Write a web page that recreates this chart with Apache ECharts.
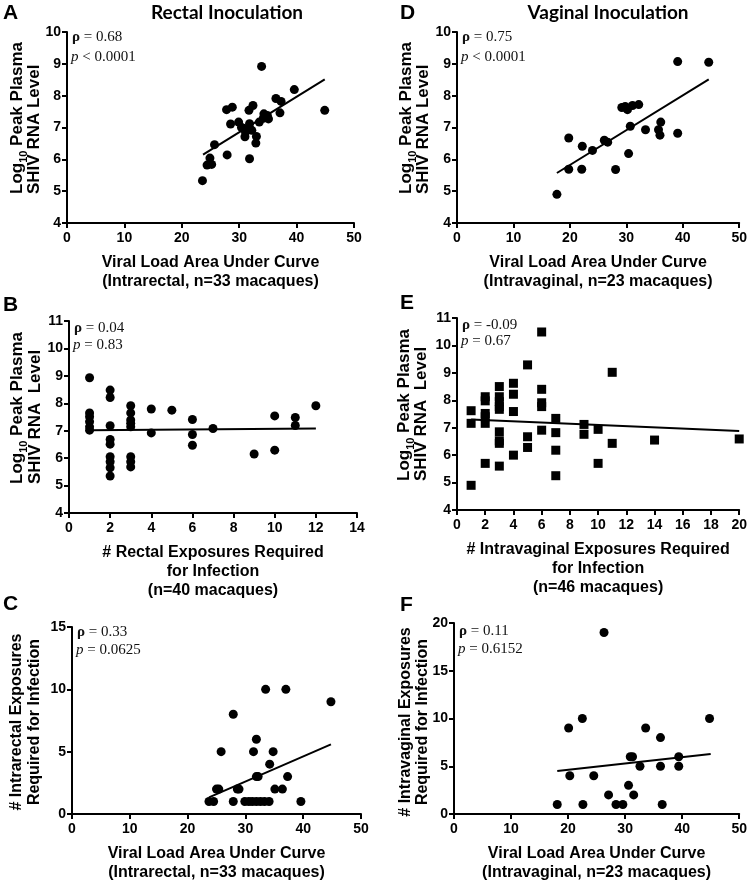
<!DOCTYPE html>
<html><head><meta charset="utf-8">
<script src="https://cdn.jsdelivr.net/npm/echarts@6.0.0/dist/echarts.min.js"></script>
<style>html,body{margin:0;padding:0;background:#fff}#c{width:750px;height:883px}</style>
</head><body><div id="c"></div>
<script>
// ---------- DATA ----------
// Panel A: rectal, AUC vs peak log10 RNA
const aAuc  = [23.6,24.4,24.9,25.2,25.7,27.9,27.8,28.8,28.5,29.9,30.4,30.7,31.0,31.1,31.4,31.7,31.8,31.8,32.4,32.2,33.0,32.9,33.5,33.9,34.3,34.2,34.9,35.1,36.4,37.1,37.3,39.6,44.9];
const aPeak = [5.33,5.82,6.04,5.84,6.46,6.14,7.56,7.64,7.11,7.17,7.00,6.98,6.71,6.86,6.92,7.54,7.12,6.02,7.69,6.91,6.72,6.51,7.17,8.92,7.43,7.29,7.38,7.27,7.91,7.46,7.82,8.19,7.54];
const aFit  = [[23.7,6.15],[44.9,8.51]];
// Panel D: vaginal, AUC vs peak
const dAuc  = [17.7,19.8,19.8,22.2,22.1,24.0,26.1,26.7,28.1,29.2,29.8,30.2,30.4,30.7,31.1,32.2,33.4,35.7,35.96,36.1,39.1,39.1,44.6];
const dPeak = [4.90,6.67,5.69,6.41,5.69,6.28,6.60,6.54,5.68,7.63,7.66,7.56,6.18,7.04,7.69,7.72,6.93,6.93,6.76,7.17,6.82,9.07,9.05];
const dFit  = [[17.7,5.57],[44.6,8.51]];
// Panel B: rectal exposures vs peak
const bExp  = [1,1,1,1,1,1, 2,2,2,2,2,2,2,2,2, 3,3,3,3,3,3,3,3, 4,4, 5, 6,6,6, 7, 9, 10,10, 11,11, 12];
const bPeak = [8.93,7.65,7.51,7.33,7.14,7.02, 8.48,8.21,7.18,6.68,6.51,6.05,5.87,5.65,5.35, 7.91,7.65,7.39,7.27,7.14,6.05,5.87,5.68, 7.79,6.92, 7.75, 7.41,6.86,6.47, 7.08, 6.15, 7.54,6.29, 7.48,7.19, 7.91];
const bFit  = [[1,7.02],[12,7.08]];
// Panel E: vaginal exposures vs peak
const eExp  = [1,1,1, 2,2,2,2,2,2, 3,3,3,3,3,3,3,3,3, 4,4,4,4, 5,5,5, 6,6,6,6,6, 7,7,7,7, 9,9, 10,10, 11,11, 14, 20];
const ePeak = [7.62,7.16,4.90, 8.13,7.98,7.52,7.40,7.16,5.70, 8.50,8.13,7.95,7.77,7.67,6.85,6.52,6.43,5.60, 8.62,8.22,7.59,6.00, 9.29,6.67,6.28, 10.49,8.40,7.91,7.77,6.91, 7.34,6.82,6.18,5.25, 7.12,6.76, 6.94,5.70, 9.02,6.43, 6.55, 6.59];
const eFit  = [[1,7.30],[20,6.88]];
// Panel C: rectal AUC vs exposures
const cAuc  = [23.7,24.5,25.0,25.4,25.8,27.9,27.9,28.6,28.9,29.9,30.6,31.2,31.4,31.9,31.9,31.9,32.6,33.3,34.1,33.5,34.2,34.8,35.1,36.4,37.0,37.3,39.6,44.8,32.2];
const cExp  = [1,1,2,2,5,1,8,2,2,1,1,1,5,3,6,1,1,1,1,10,4,5,2,2,10,3,1,9,3];
const cFit  = [[23.7,1.33],[44.8,5.58]];
// Panel F: vaginal AUC vs exposures
const fAuc  = [18.1,20.1,20.3,22.5,22.6,24.5,26.3,27.1,28.4,29.6,30.6,30.9,31.3,31.5,32.6,33.6,36.2,36.2,36.5,39.4,39.4,44.8];
const fExp  = [1,9,4,10,1,4,19,2,1,1,3,6,6,2,5,9,8,5,1,6,5,10];
const fFit  = [[18.1,4.51],[45.0,6.28]];
// Tick labels
const ticksAuc    = [0,10,20,30,40,50];
const ticksPeakAD = [4,5,6,7,8,9,10];
const ticksPeakBE = [4,5,6,7,8,9,10,11];
const ticksExpB   = [0,2,4,6,8,10,12,14];
const ticksExpE   = [0,2,4,6,8,10,12,14,16,18,20];
const ticksExpC   = [0,5,10,15];
const ticksExpF   = [0,5,10,15,20];
// Statistics text
const rhoText = ['0.68','0.04','0.33','0.75','-0.09','0.11'];
const pText   = ['< 0.0001','= 0.83','= 0.0625','< 0.0001','= 0.67','= 0.6152'];
const panelLetters = ['A','B','C','D','E','F'];
const columnTitles = ['Rectal Inoculation','Vaginal Inoculation'];
const xTitles = [
  'Viral Load Area Under Curve\n(Intrarectal, n=33 macaques)',
  '# Rectal Exposures Required\nfor Infection\n(n=40 macaques)',
  'Viral Load Area Under Curve\n(Intrarectal, n=33 macaques)',
  'Viral Load Area Under Curve\n(Intravaginal, n=23 macaques)',
  '# Intravaginal Exposures Required\nfor Infection\n(n=46 macaques)',
  'Viral Load Area Under Curve\n(Intravaginal, n=23 macaques)'
];
// y titles: [line 1, line 2]
const yTitles = [
  ['{t|Log}{s|10}{t| Peak Plasma}', 'SHIV RNA Level'],
  ['{t|Log}{s|10}{t| Peak Plasma}', 'SHIV RNA  Level'],
  ['# Intrarectal Exposures', 'Required for Infection'],
  ['{t|Log}{s|10}{t| Peak Plasma}', 'SHIV RNA Level'],
  ['{t|Log}{s|10}{t| Peak Plasma}', 'SHIV RNA  Level'],
  ['# Intravaginal Exposures', 'Required for Infection']
];

// ---------- LAYOUT ----------
function pairs(xs, ys){ return xs.map((v,i)=>[v, ys[i]]); }
const pts = [
  {x: pairs(aAuc,aPeak), fit:aFit, xt:ticksAuc, yt:ticksPeakAD, sym:'circle'},
  {x: pairs(bExp,bPeak), fit:bFit, xt:ticksExpB, yt:ticksPeakBE, sym:'circle'},
  {x: pairs(cAuc,cExp), fit:cFit, xt:ticksAuc, yt:ticksExpC, sym:'circle'},
  {x: pairs(dAuc,dPeak), fit:dFit, xt:ticksAuc, yt:ticksPeakAD, sym:'circle'},
  {x: pairs(eExp,ePeak), fit:eFit, xt:ticksExpE, yt:ticksPeakBE, sym:'rect'},
  {x: pairs(fAuc,fExp), fit:fFit, xt:ticksAuc, yt:ticksExpF, sym:'circle'}
];
// yt: [x line1, x line2, y anchor, align, fontSize]
const layout = [
  {left:67, top:32, width:287, height:191, r1:5.5, r2:20, lx:3, ly:13, yt:[17,34,194,'left',17]},
  {left:69, top:321, width:288, height:192, r1:8, r2:16.5, lx:3, ly:305, yt:[17,35,484,'left',17]},
  {left:72, top:627, width:289, height:191, r1:6, r2:17.5, lx:3, ly:604, yt:[17,35,722,'center',16]},
  {left:457, top:32, width:286, height:191, r1:5.5, r2:20, lx:400, ly:13, yt:[406,423,194,'left',17]},
  {left:457, top:318, width:288, height:192, r1:8, r2:15.5, lx:400, ly:303, yt:[404,421,481,'left',17]},
  {left:454, top:623, width:288, height:192, r1:8.5, r2:18.5, lx:400, ly:605, yt:[406,423,722,'center',16]}
];

const FONT = 'Liberation Sans';
const grids=[], xAxes=[], yAxes=[], series=[], graphics=[];
function yRich(fs){ return {t:{fontFamily:FONT, fontWeight:'bold', fontSize:fs, fill:'#000'},
               s:{fontFamily:FONT, fontWeight:'bold', fontSize:11, fill:'#000', padding:[13,0,0,0]}}; }
pts.forEach((p,i)=>{
  const L = layout[i];
  grids.push({left:L.left, top:L.top, width:L.width, height:L.height, containLabel:false});
  const xt=p.xt, yt=p.yt;
  const axisCommon = {
    axisLine:{show:true, onZero:false, lineStyle:{color:'#000', width:2}},
    axisTick:{show:true, inside:false, length:5, lineStyle:{color:'#000', width:2}},
    splitLine:{show:false},
    axisLabel:{color:'#000', fontFamily:FONT, fontWeight:'bold', fontSize:14}
  };
  xAxes.push(Object.assign({}, axisCommon, {
    type:'value', gridIndex:i, min:xt[0], max:xt[xt.length-1], interval:xt[1]-xt[0],
    axisLabel:Object.assign({}, axisCommon.axisLabel, {margin:8}),
    name:xTitles[i], nameLocation:'middle', nameGap:30,
    nameTextStyle:{color:'#000', fontFamily:FONT, fontWeight:'bold', fontSize:16, lineHeight:19, verticalAlign:'top'}
  }));
  yAxes.push(Object.assign({}, axisCommon, {
    type:'value', gridIndex:i, min:yt[0], max:yt[yt.length-1], interval:yt[1]-yt[0],
    axisLabel:Object.assign({}, axisCommon.axisLabel, {margin:6})
  }));
  series.push({type:'scatter', xAxisIndex:i, yAxisIndex:i, data:p.x, symbol:p.sym,
    symbolSize:9, itemStyle:{color:'#000', opacity:1}, silent:true, z:2});
  series.push({type:'line', xAxisIndex:i, yAxisIndex:i, data:p.fit, showSymbol:false,
    lineStyle:{color:'#000', width:2}, silent:true, z:3});
  // y-axis title lines (rotated)
  const T = L.yt;
  [0,1].forEach(k=>{
    const txt = yTitles[i][k];
    graphics.push({type:'text', x:T[k], y:T[2], rotation:Math.PI/2, style:{
      text: txt.indexOf('{')===0 ? txt : '{t|'+txt+'}', rich:yRich(T[4]),
      font:'bold '+T[4]+'px "Liberation Sans"', fill:'#000', textAlign:T[3], textVerticalAlign:'middle'}});
  });
  graphics.push({type:'text', left:L.left+5, top:L.top+L.r1-8, style:{
    text:'{b|ρ} = '+rhoText[i], font:'15px "Liberation Serif"', fill:'#111',
    rich:{b:{fontFamily:'Liberation Serif', fontWeight:'bold', fontSize:15, fill:'#111'}}}});
  graphics.push({type:'text', left:L.left+4, top:L.top+L.r1+L.r2-8, style:{
    text:'{i|p} '+pText[i], font:'15px "Liberation Serif"', fill:'#111',
    rich:{i:{fontFamily:'Liberation Serif', fontStyle:'italic', fontSize:15, fill:'#111'}}}});
  graphics.push({type:'text', left:L.lx, top:L.ly-10, style:{
    text:panelLetters[i], font:'bold 21px "Liberation Sans"', fill:'#000'}});
});
graphics.push({type:'text', x:227, y:13, style:{text:columnTitles[0], font:'bold 19px Lato', fill:'#000', textAlign:'center', textVerticalAlign:'middle'}});
graphics.push({type:'text', x:608, y:13, style:{text:columnTitles[1], font:'bold 19px Lato', fill:'#000', textAlign:'center', textVerticalAlign:'middle'}});

const chart = echarts.init(document.getElementById('c'), null, {renderer:'canvas'});
chart.setOption({
  animation:false, backgroundColor:'#fff',
  grid:grids, xAxis:xAxes, yAxis:yAxes, series:series, graphic:graphics
});
</script></body></html>
